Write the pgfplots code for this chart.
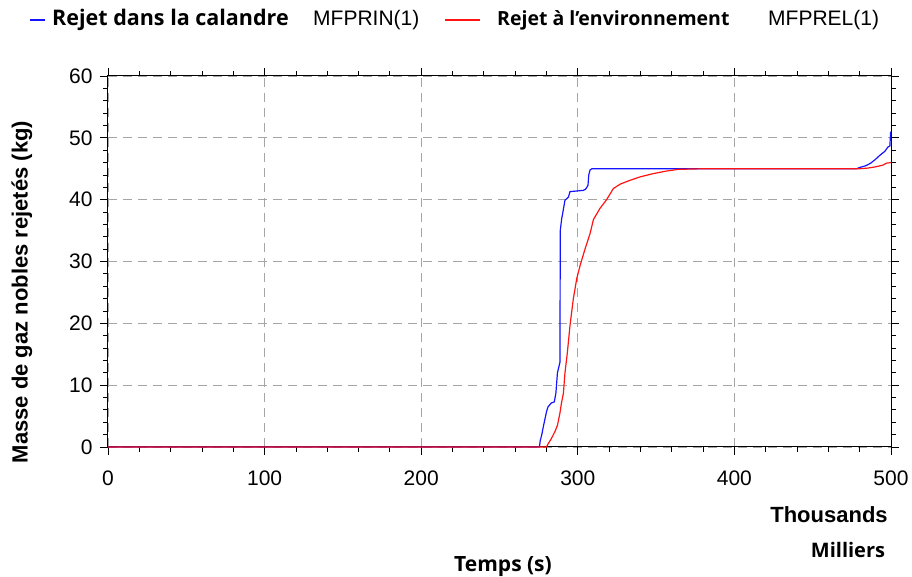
\documentclass[border=0pt]{standalone}
\usepackage{fontspec}
\setmainfont{Liberation Sans}
\newfontfamily\seg{Open Sans}
\usepackage{pgfplots}
\pgfplotsset{compat=1.18}

\definecolor{gridgray}{RGB}{165,165,165}
\definecolor{bl}{RGB}{20,20,255}
\definecolor{rd}{RGB}{255,20,20}

\begin{document}
\begin{tikzpicture}
\useasboundingbox (-108pt,-130pt) rectangle (804pt,447pt);
\begin{axis}[
  scale only axis, width=783pt, height=371pt,
  xmin=0, xmax=500, ymin=0, ymax=60,
  xtick={0,100,...,500}, ytick={0,10,...,60},
  minor x tick num=4, minor y tick num=4,
  tick align=outside, major tick length=8pt, minor tick length=5pt,
  tick style={black, line width=0.8pt},
  xmajorgrids, ymajorgrids,
  major grid style={gridgray, line width=0.9pt, dash pattern=on 9pt off 6pt},
  axis line style={black, line width=1pt},
  ticklabel style={font=\fontsize{21}{21}\selectfont},
  /pgf/number format/assume math mode=true,
  xticklabel style={yshift=-12pt},
  yticklabel style={xshift=-4pt},
  clip=false,
]
\addplot[bl, line width=1.2pt] coordinates {
(0,0) (275.5,0) (276,1) (277,2) (278,3.3) (279,4.5) (280,5.7) (281,6.5) (283,7.1)
(285,7.3) (286,8.7) (287,12) (288.6,13.7) (288.8,35) (289.7,36.9) (290.5,38)
(291.8,39.9) (294,40.4) (295,41.3) (303.5,41.5) (305,41.7) (306.5,42.3) (307,44)
(307.8,44.8) (309,45) (478,45) (480,45.2) (484,45.5) (487,45.9) (490,46.5)
(493,47.2) (496,47.8) (498,48.5) (499.3,48.7) (499.7,50.8) (500,51)};
\addplot[rd, line width=1.2pt] coordinates {
(0,0) (280,0) (281,0.5) (283,1.3) (285.4,2.5) (287,3.5) (288.6,5.5) (289.5,7)
(290.8,8.7) (291.8,12) (293.3,15.2) (295,19.6) (297.1,23.9) (299.3,27.2)
(301.4,29.3) (304.6,32) (307.8,34.5) (310,36.8) (314.2,38.6) (318.4,40)
(322.7,41.8) (327,42.5) (333,43.1) (340,43.7) (348,44.2) (356,44.6) (364,44.9)
(380,45.0) (480,45.0) (485,45.1) (490,45.3) (495,45.6) (497,45.9) (500,46)};
\end{axis}
% legend
\draw[bl, line width=1.2pt] (-78pt,427pt) -- (-63pt,427pt);
\node[anchor=west, inner sep=0pt] at (-56pt,427pt) {\seg\bfseries\fontsize{21.5}{21.5}\selectfont Rejet dans la calandre};
\node[anchor=west, inner sep=0pt] at (205pt,427pt) {\fontsize{21}{21}\selectfont MFPRIN(1)};
\draw[rd, line width=1.2pt] (337pt,427pt) -- (372pt,427pt);
\node[anchor=west, inner sep=0pt] at (389pt,427pt) {\seg\bfseries\fontsize{19.5}{19.5}\selectfont Rejet à l’environnement};
\node[anchor=west, inner sep=0pt] at (660pt,427pt) {\fontsize{21}{21}\selectfont MFPREL(1)};
% labels
\node[rotate=90, inner sep=0pt] at (-86pt,155pt) {\bfseries\fontsize{22}{22}\selectfont Masse de gaz nobles rejetés (kg)};
\node[inner sep=0pt] at (721pt,-68pt) {\bfseries\fontsize{22}{22}\selectfont Thousands};
\node[inner sep=0pt] at (740pt,-103pt) {\seg\bfseries\fontsize{20}{20}\selectfont Milliers};
\node[inner sep=0pt] at (395pt,-120pt) {\seg\bfseries\fontsize{21}{21}\selectfont Temps (s)};
\end{tikzpicture}
\end{document}
